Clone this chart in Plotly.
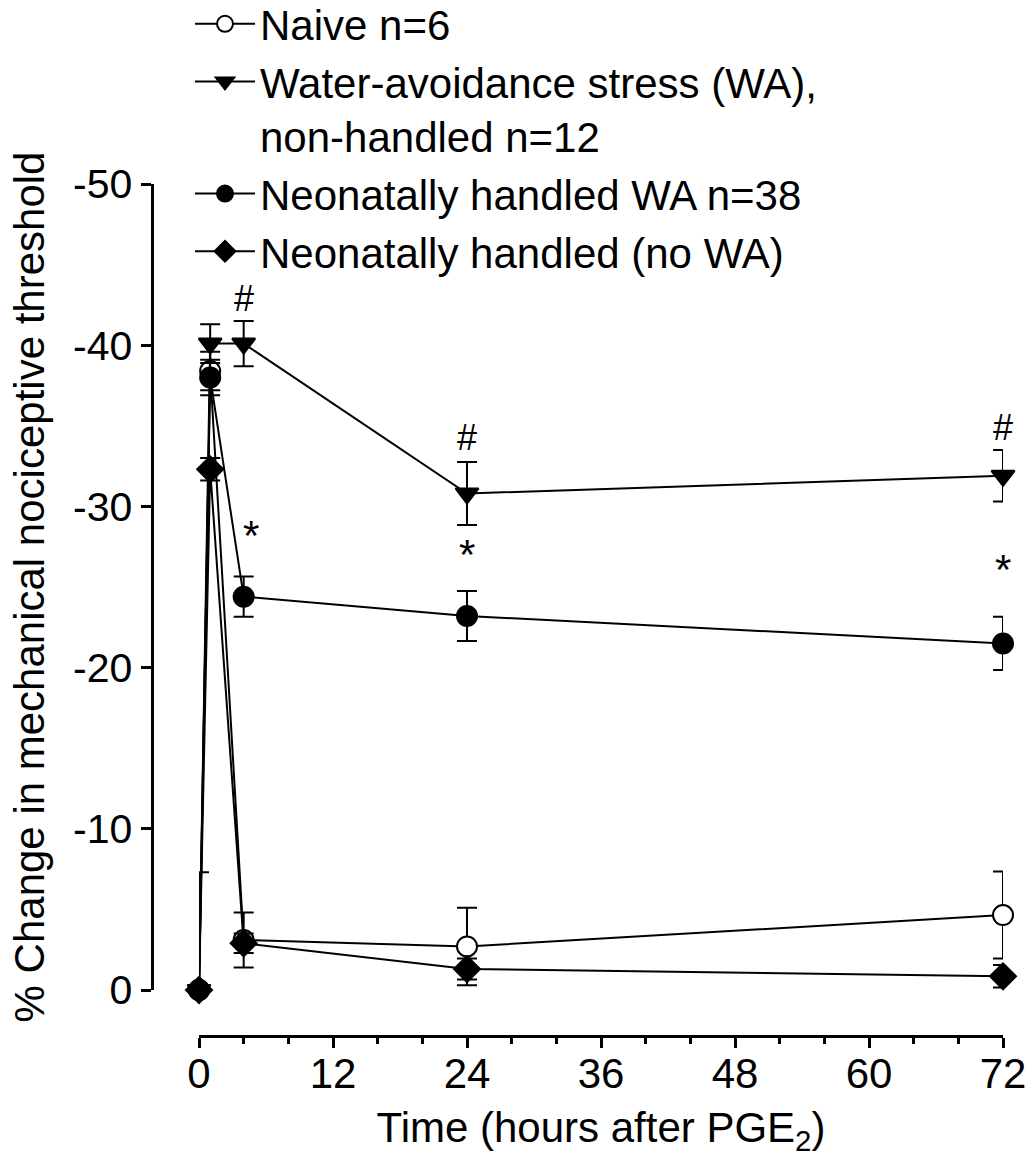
import plotly.graph_objects as go

# ---- data ----
time_h = [0, 1, 4, 24, 72]

naive_mean = [0, -38.4, -3.1, -2.7, -4.65]
naive_sem = [7.3, 1.2, 1.7, 2.4, 2.7]

wa_mean = [0, -40.1, -40.1, -30.8, -31.9]
wa_sem = [0, 1.2, 1.4, 1.95, 1.6]

nh_wa_mean = [0, -38.0, -24.4, -23.2, -21.5]
nh_wa_sem = [0, 1.1, 1.25, 1.55, 1.65]

nh_mean = [0, -32.3, -2.9, -1.3, -0.85]
nh_sem = [0, 0.7, 0.6, 0.65, 0.7]

names = [
    "Naive n=6",
    "Water-avoidance stress (WA),<br>non-handled n=12",
    "Neonatally handled WA n=38",
    "Neonatally handled (no WA)",
]

hash_x = [4, 24, 72]
hash_y = [-42.9, -34.3, -34.9]
star_x = [4.7, 24, 72]
star_y = [-28.2, -27.0, -26.1]

x_ticks = [0, 12, 24, 36, 48, 60, 72]
y_ticks = [0, -10, -20, -30, -40, -50]
y_ticktext = ["0", "-10", "-20", "-30", "-40", "-50"]

FONT = "Liberation Sans, Arial, Helvetica, sans-serif"
W, H = 1032, 1157

fig = go.Figure()


def add_series(x, y, e, name, symbol, fill, rank):
    fig.add_trace(go.Scatter(
        x=x, y=y, name=name, mode="lines+markers",
        line=dict(color="black", width=2),
        marker=dict(symbol=symbol, size=20, color=fill,
                    line=dict(color="black", width=2)),
        error_y=dict(type="data", array=e, visible=True, color="black",
                     thickness=2, width=10),
        cliponaxis=False, legendrank=rank, legendgroup=name,
    ))


add_series(time_h, naive_mean, naive_sem, names[0], "circle", "white", 1)
add_series(time_h, nh_mean, nh_sem, names[3], "diamond", "black", 4)
add_series(time_h, nh_wa_mean, nh_wa_sem, names[2], "circle", "black", 3)
add_series(time_h, wa_mean, wa_sem, names[1], "triangle-down", "black", 2)

for xv, yv in zip(hash_x, hash_y):
    fig.add_annotation(x=xv, y=yv, text="#", showarrow=False,
                       font=dict(family=FONT, size=36, color="black"))
for xv, yv in zip(star_x, star_y):
    fig.add_annotation(x=xv, y=yv, text="*", showarrow=False,
                       font=dict(family=FONT, size=42, color="black"))

x0_px, x72_px = 199, 1003
y0_px, y50_px = 990, 184

fig.update_layout(
    template="none",
    width=W, height=H, autosize=False,
    margin=dict(l=0, r=0, t=0, b=0, pad=0, autoexpand=False),
    paper_bgcolor="white", plot_bgcolor="white",
    font=dict(family=FONT, color="black"),
    showlegend=True,
    legend=dict(
        x=190 / W, y=1 + 10 / H, xanchor="left", yanchor="top",
        font=dict(family=FONT, size=42, color="black"),
        bgcolor="rgba(0,0,0,0)", tracegroupgap=0, itemwidth=60,
        valign="top",
    ),
    xaxis=dict(
        domain=[x0_px / W, x72_px / W], range=[0, 72],
        anchor="free", position=1 - 1036 / H, automargin=False,
        tickvals=x_ticks, ticks="outside", ticklen=10, tickwidth=3,
        tickcolor="black", showline=True, linewidth=3, linecolor="black",
        showgrid=False, zeroline=False, ticklabelstandoff=-10,
        tickfont=dict(family=FONT, size=42, color="black"),
        minor=dict(dtick=4, tick0=0, ticks="outside", ticklen=6,
                   tickwidth=3, tickcolor="black", showgrid=False),
        title=dict(text="Time (hours after PGE<sub>2</sub>)", standoff=60,
                   font=dict(family=FONT, size=42, color="black")),
    ),
    yaxis=dict(
        domain=[1 - y0_px / H, 1 - y50_px / H], range=[0, -50],
        anchor="free", position=151.5 / W, automargin=False,
        tickvals=y_ticks, ticktext=y_ticktext,
        ticks="outside", ticklen=10, tickwidth=3, tickcolor="black",
        showline=True, linewidth=3, linecolor="black",
        showgrid=False, zeroline=False,
        tickfont=dict(family=FONT, size=41, color="black"),
        title=dict(text="% Change in mechanical nociceptive threshold",
                   standoff=14,
                   font=dict(family=FONT, size=42, color="black")),
    ),
)

fig.write_html(
    "out.html",
    config={"displayModeBar": False},
    post_script="document.body.style.margin='0';"
                "document.body.style.overflow='hidden';",
)
